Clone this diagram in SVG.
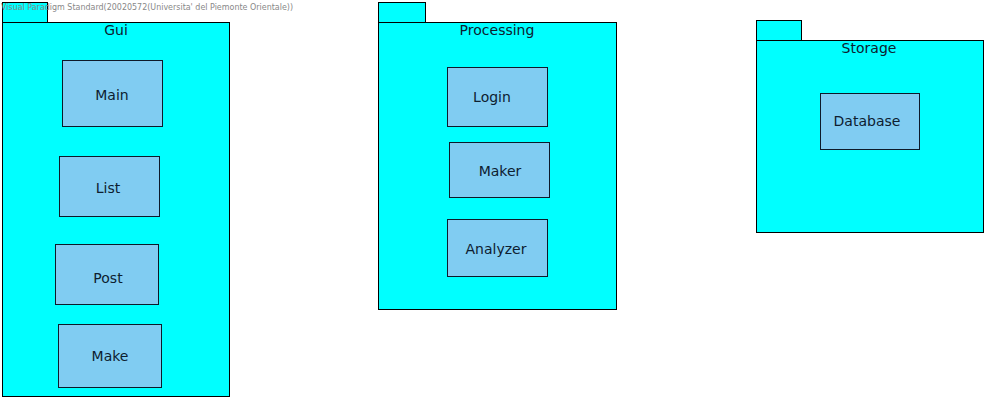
<svg xmlns="http://www.w3.org/2000/svg" width="988" height="401" viewBox="0 0 988 401">
<style>
.pkg{fill:#00ffff;stroke:#000;stroke-width:1}
.cls{fill:#80ccf2;stroke:#0d1a2a;stroke-width:1}
.t{font-family:"DejaVu Sans",sans-serif;font-size:14px;fill:#0d2030;text-anchor:middle}
.wm{font-family:"DejaVu Sans",sans-serif;font-size:8px;fill:#888}
</style>
<rect width="988" height="401" fill="#fff"/>
<g id="gui">
<rect class="pkg" x="2.5" y="2.5" width="45" height="20"/>
<rect class="pkg" x="2.5" y="22.5" width="227" height="374"/>
<text class="t" x="116" y="35">Gui</text>
</g>
<g id="processing">
<rect class="pkg" x="378.5" y="2.5" width="47" height="20"/>
<rect class="pkg" x="378.5" y="22.5" width="238" height="287"/>
<text class="t" x="497" y="35">Processing</text>
</g>
<g id="storage">
<rect class="pkg" x="756.5" y="20.5" width="45" height="20"/>
<rect class="pkg" x="756.5" y="40.5" width="227" height="192"/>
<text class="t" x="869" y="53">Storage</text>
</g>
<g id="main"><rect class="cls" x="62.5" y="60.5" width="100" height="66"/><text class="t" x="112" y="100">Main</text></g>
<g id="list"><rect class="cls" x="59.5" y="156.5" width="100" height="60"/><text class="t" x="108" y="193">List</text></g>
<g id="post"><rect class="cls" x="55.5" y="244.5" width="103" height="60"/><text class="t" x="108" y="283">Post</text></g>
<g id="make"><rect class="cls" x="58.5" y="324.5" width="103" height="63"/><text class="t" x="110" y="361">Make</text></g>
<g id="login"><rect class="cls" x="447.5" y="67.5" width="100" height="59"/><text class="t" x="492" y="102">Login</text></g>
<g id="maker"><rect class="cls" x="449.5" y="142.5" width="100" height="55"/><text class="t" x="500" y="176">Maker</text></g>
<g id="analyzer"><rect class="cls" x="447.5" y="219.5" width="100" height="57"/><text class="t" x="496" y="254">Analyzer</text></g>
<g id="database"><rect class="cls" x="820.5" y="93.5" width="99" height="56"/><text class="t" x="867" y="126">Database</text></g>
<g id="connectors"></g>
<text class="wm" x="1" y="10" textLength="292" lengthAdjust="spacingAndGlyphs">Visual Paradigm Standard(20020572(Universita' del Piemonte Orientale))</text>
</svg>
